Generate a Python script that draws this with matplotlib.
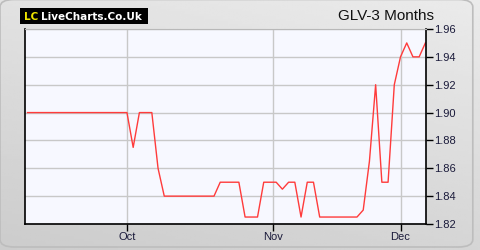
import matplotlib
matplotlib.use("Agg")
import matplotlib.pyplot as plt
import numpy as np
from matplotlib.patches import FancyBboxPatch

# Trading-day index (0 = 1 Oct) and closing prices
day_index = list(range(-16, 49))
prices = (
    [1.90] * 17            # -16 .. 0
    + [1.875]              # 1
    + [1.90] * 3           # 2..4
    + [1.86]               # 5
    + [1.84] * 9           # 6..14
    + [1.85] * 4           # 15..18
    + [1.825] * 3          # 19..21
    + [1.85] * 3           # 22..24
    + [1.845]              # 25
    + [1.85] * 2           # 26,27
    + [1.825]              # 28
    + [1.85] * 2           # 29,30
    + [1.825] * 7          # 31..37
    + [1.83]               # 38
    + [1.865]              # 39
    + [1.92]               # 40
    + [1.85] * 2           # 41,42
    + [1.92]               # 43
    + [1.94]               # 44
    + [1.95]               # 45
    + [1.94] * 2           # 46,47
    + [1.95]               # 48
)
month_ticks = [0, 23.5, 44]
month_labels = ["Oct", "Nov", "Dec"]
y_ticks = [1.82, 1.84, 1.86, 1.88, 1.90, 1.92, 1.94, 1.96]
title = "GLV-3 Months"

W, H = 480, 250
fig = plt.figure(figsize=(W / 100, H / 100), dpi=100)
fig.patch.set_facecolor("#d4d4d4")

# background gradient
bg = fig.add_axes([0, 0, 1, 1])
yy, xx = np.mgrid[0:1:100j, 0:1:100j]
grad = 0.80 + 0.12 * (yy * 0.7 + xx * 0.3)
bg.imshow(grad, cmap="gray", vmin=0, vmax=1, extent=[0, 1, 0, 1], aspect="auto", origin="lower")
bg.add_patch(FancyBboxPatch((0.0, 0.012), 0.985, 0.99, boxstyle="round,pad=0,rounding_size=0.03",
                            transform=bg.transAxes, facecolor="none", edgecolor="#bdbdbd", lw=1.2))
bg.set_xlim(0, 1); bg.set_ylim(0, 1)
bg.axis("off")

left, right, top, bottom = 25, 426, 29, 224
ax = fig.add_axes([left / W, 1 - bottom / H, (right - left) / W, (bottom - top) / H])
ax.set_facecolor("#f7f8ff")
ax.plot(day_index, prices, color="#ff3b3b", lw=1.0)
ax.set_xlim(-16.4, 48.1)
ax.set_ylim(1.82, 1.96)
ax.set_xticks(month_ticks)
ax.set_xticklabels(month_labels)
ax.set_yticks(y_ticks)
ax.set_yticklabels([f"{v:.2f}" for v in y_ticks])
ax.yaxis.tick_right()
ax.grid(True, color="#c8c8c8", lw=1.0)
ax.set_axisbelow(True)
ax.tick_params(axis="both", length=5, width=1, color="black", labelsize=8, labelcolor="#1a1a3a", pad=1)
for lbl in ax.get_xticklabels() + ax.get_yticklabels():
    lbl.set_fontfamily("Liberation Sans")
ax.spines["top"].set_color("#b8b8b8")
ax.spines["top"].set_linewidth(0.8)
for s in ("left", "right", "bottom"):
    ax.spines[s].set_color("black")
    ax.spines[s].set_linewidth(1.2)

# title
fig.text(434 / W, 1 - 16 / H, title, ha="right", va="center", fontsize=11,
         family="Liberation Sans", color="#111111")

# logo
fig.patches.append(FancyBboxPatch((20 / W, 1 - 24 / H), 128 / W, 16 / H, boxstyle="square,pad=0",
                                  transform=fig.transFigure, facecolor="black", edgecolor="none"))
fig.text(24 / W, 1 - 16.5 / H, "LC", ha="left", va="center", fontsize=7.5, weight="bold",
         family="DejaVu Sans", color="#f0e600")
fig.text(41 / W, 1 - 16.5 / H, "LiveCharts.Co.Uk", ha="left", va="center", fontsize=7.5,
         weight="bold", family="DejaVu Sans", color="white")

fig.savefig("out.png", dpi=100, facecolor=fig.get_facecolor())
